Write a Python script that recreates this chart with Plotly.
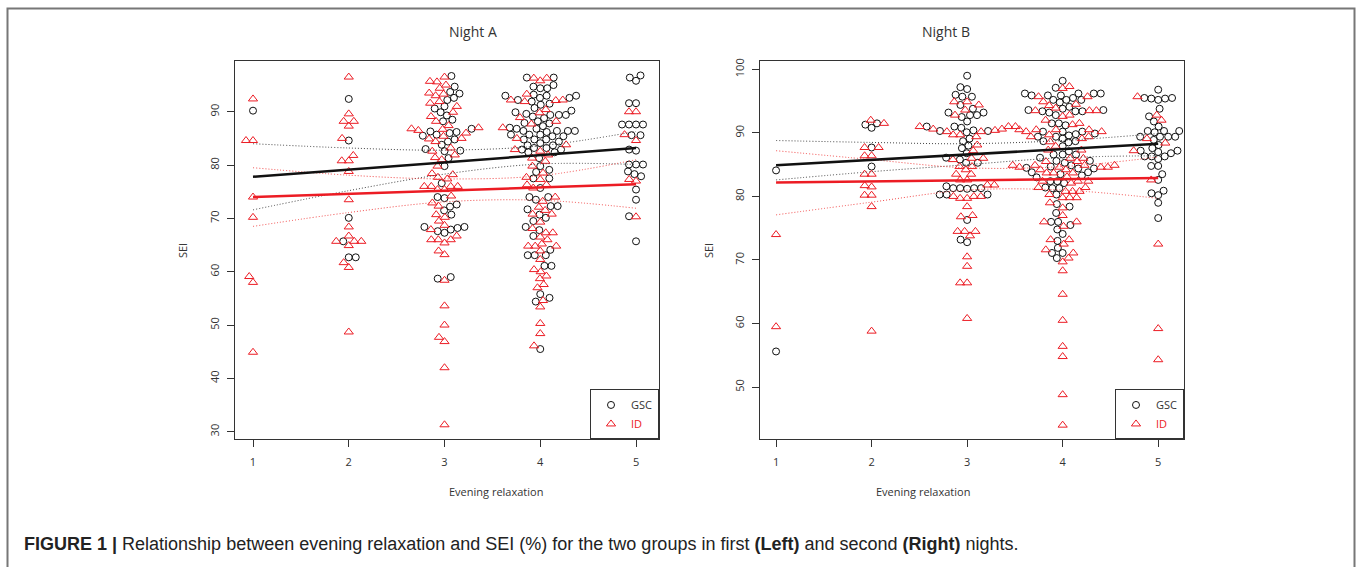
import math
import numpy as np
import plotly.graph_objects as go

# ---------------- data ----------------
categories = [1, 2, 3, 4, 5]

# Night A
a_gsc_1 = [90.2]
a_id_1 = [92.4, 84.6, 84.6, 74.0, 70.2, 59.1, 58.0, 44.9]
a_gsc_2 = [92.4, 84.6, 70.1, 65.7, 62.7, 62.7]
a_id_2 = [96.5, 89.6, 88.2, 88.2, 87.3, 85.0, 81.8, 80.8, 80.8, 78.8, 73.5, 68.4, 66.7,
          65.7, 65.7, 65.7, 64.9, 61.7, 60.8, 48.7]
a_gsc_3 = [96.7, 94.7, 93.7, 93.4, 92.6, 92.2, 91.0, 90.6, 89.9, 89.3, 88.5, 88.2, 86.8,
           86.3, 86.2, 86.0, 85.7, 85.5, 84.8, 84.4, 83.8, 83.0, 82.7, 82.6, 81.3, 79.8,
           76.6, 74.0, 73.8, 72.6, 72.2, 71.5, 70.7, 68.4, 68.4, 68.2, 67.9, 67.6, 67.3,
           59.0, 58.7]
a_id_3 = [96.5, 95.7, 95.6, 95.0, 94.4, 93.5, 93.3, 93.0, 91.9, 91.6, 91.0, 89.9, 89.1,
          88.2, 87.4, 87.0, 86.8, 86.7, 86.5, 86.0, 85.4, 85.0, 84.9, 84.4, 83.2, 82.6,
          81.9, 81.4, 81.0, 79.8, 78.4, 78.2, 77.7, 77.4, 76.0, 76.0, 76.0, 76.0, 75.4,
          75.4, 74.2, 72.9, 72.3, 70.7, 70.2, 69.5, 68.7, 67.9, 66.7, 66.0, 66.0, 66.0,
          65.4, 63.9, 63.2, 58.4, 53.6, 50.0, 47.7, 46.9, 42.0, 31.3]
a_gsc_4 = [96.4, 96.4, 95.0, 94.7, 94.4, 94.4, 93.2, 93.0, 93.0, 93.0, 92.6, 92.6, 92.2,
           91.9, 91.5, 91.3, 90.7, 90.2, 89.9, 89.6, 89.4, 89.4, 89.4, 89.1, 88.8, 88.2,
           87.9, 87.8, 87.3, 87.0, 86.8, 86.8, 86.4, 86.4, 86.4, 86.4, 86.2, 85.7, 85.7,
           85.7, 85.4, 85.4, 84.8, 84.8, 84.8, 84.4, 84.1, 83.7, 83.7, 83.2, 83.2, 82.9,
           82.9, 82.4, 82.4, 81.3, 79.8, 79.1, 78.7, 77.5, 77.5, 75.7, 74.0, 74.0, 73.5,
           72.3, 72.3, 71.7, 70.7, 70.1, 69.5, 68.4, 67.8, 66.7, 64.1, 63.1, 63.1, 63.1,
           61.1, 61.1, 55.8, 55.1, 54.4, 45.5]
a_id_4 = [96.3, 96.3, 95.8, 93.3, 92.2, 92.2, 92.1, 91.9, 90.4, 89.8, 88.9, 88.2, 87.7,
          87.0, 85.0, 83.8, 82.9, 82.6, 81.9, 81.3, 80.7, 79.8, 78.5, 77.7, 77.3, 76.3,
          76.3, 75.7, 74.0, 73.2, 72.1, 71.5, 70.8, 70.8, 69.3, 68.1, 67.3, 67.3, 66.5,
          66.0, 65.2, 64.8, 64.8, 64.8, 63.9, 62.3, 60.4, 60.0, 59.2, 58.7, 57.6, 57.0,
          54.6, 53.4, 50.3, 48.4, 46.1]
a_gsc_5 = [96.8, 96.4, 95.8, 91.6, 91.6, 87.6, 87.6, 87.6, 87.6, 85.6, 85.6, 82.9, 82.7,
           80.1, 80.1, 80.1, 78.8, 78.3, 77.9, 75.4, 73.5, 70.4, 65.7]
a_id_5 = [90.0, 90.0, 85.7, 84.6, 77.3, 77.0, 70.3]

# Night B
b_gsc_1 = [84.1, 55.6]
b_id_1 = [74.0, 59.5]
b_gsc_2 = [91.5, 91.3, 90.8, 87.7, 84.7]
b_id_2 = [92.0, 91.5, 87.7, 87.7, 86.4, 86.4, 83.5, 83.5, 81.7, 81.5, 80.2, 80.2, 78.4, 58.8]
b_gsc_3 = [99.0, 97.2, 96.9, 96.0, 95.7, 95.7, 94.4, 93.8, 93.2, 93.2, 92.8, 92.8, 92.5,
           91.8, 91.0, 91.0, 90.8, 90.4, 90.3, 90.3, 90.1, 89.1, 88.7, 88.0, 87.6, 86.8,
           86.1, 85.8, 85.3, 85.3, 81.6, 81.3, 81.3, 81.3, 81.3, 81.2, 80.3, 80.3, 80.3,
           76.3, 73.2, 72.8]
b_id_3 = [94.9, 94.9, 94.4, 93.6, 92.8, 91.0, 91.0, 91.0, 90.6, 90.6, 90.4, 90.2, 90.2,
          89.7, 89.7, 89.4, 88.1, 87.2, 86.0, 86.0, 85.8, 84.7, 84.7, 84.2, 83.5, 83.5,
          82.6, 82.6, 81.8, 81.8, 80.0, 80.0, 80.0, 79.7, 79.7, 78.4, 77.0, 76.8, 74.5,
          74.5, 74.5, 73.8, 70.5, 69.0, 66.4, 66.4, 60.8]
b_gsc_4 = [98.2, 97.1, 96.2, 96.2, 96.2, 96.2, 95.9, 95.9, 95.9, 95.5, 95.2, 95.2, 95.2,
           94.8, 94.1, 93.8, 93.6, 93.6, 93.4, 93.4, 93.4, 93.2, 92.8, 91.5, 91.5, 91.2,
           90.2, 90.2, 90.2, 89.9, 89.8, 89.6, 89.4, 89.4, 89.1, 88.7, 88.7, 88.5, 87.9,
           87.1, 86.6, 86.6, 86.6, 86.1, 85.6, 85.6, 85.3, 84.9, 84.7, 84.5, 84.4, 84.4,
           83.8, 83.8, 83.5, 83.3, 83.0, 82.4, 82.4, 82.1, 81.4, 81.3, 81.3, 80.3, 78.8,
           78.4, 77.4, 76.0, 76.0, 75.5, 74.8, 74.1, 73.0, 71.9, 71.1, 71.1, 70.3]
b_id_4 = [97.3, 97.0, 95.7, 95.7, 94.9, 94.5, 94.3, 93.9, 93.5, 93.5, 93.5, 92.8, 92.6,
          92.0, 91.5, 91.3, 90.5, 90.5, 90.5, 90.5, 90.2, 90.2, 89.7, 89.4, 89.4, 89.1,
          88.6, 87.9, 87.3, 87.3, 86.0, 86.0, 85.5, 85.5, 84.9, 84.9, 84.9, 84.9, 84.6,
          84.6, 84.6, 84.6, 84.2, 84.2, 83.7, 83.7, 83.7, 83.1, 82.4, 82.4, 82.4, 82.1,
          81.4, 81.4, 80.8, 80.8, 80.8, 80.3, 79.8, 79.8, 79.8, 79.0, 78.2, 77.0, 76.0,
          76.0, 75.3, 73.2, 73.2, 72.5, 71.6, 71.1, 70.3, 69.7, 68.3, 64.6, 60.5, 56.4,
          54.8, 48.8, 44.0]
b_gsc_5 = [96.8, 95.5, 95.5, 95.4, 95.4, 95.2, 93.8, 92.6, 91.8, 91.0, 90.3, 90.3, 90.3,
           90.1, 89.4, 89.4, 89.4, 89.4, 88.9, 88.1, 87.6, 87.2, 87.2, 87.0, 86.8, 86.3,
           86.3, 86.3, 85.9, 84.8, 84.8, 83.5, 82.6, 80.9, 80.5, 80.2, 79.0, 76.6]
b_id_5 = [95.7, 92.8, 92.0, 89.1, 88.4, 87.2, 82.6, 72.5, 59.2, 54.3]

# regression lines and confidence bands
fit_x = [1, 5]
a_gsc_fit = [77.8, 83.2]
a_id_fit = [74.0, 76.4]
b_gsc_fit = [84.9, 88.3]
b_id_fit = [82.2, 82.9]
band_x = [1, 2, 3, 4, 5]
a_gsc_upper = [84.0, 83.2, 82.8, 83.6, 86.3]
a_gsc_lower = [71.6, 75.2, 78.3, 80.2, 80.1]
a_id_upper = [79.5, 78.1, 77.4, 78.0, 81.0]
a_id_lower = [68.5, 71.1, 73.1, 73.4, 71.9]
b_gsc_upper = [88.8, 88.5, 88.3, 88.8, 89.9]
b_gsc_lower = [82.6, 83.9, 85.0, 86.1, 86.4]
b_id_upper = [87.2, 85.8, 84.5, 84.7, 86.2]
b_id_lower = [77.1, 79.1, 81.0, 81.0, 79.7]

# ---------------- layout constants ----------------
W, H = 1357, 567
PLOT_TOP, PLOT_BOT = 59, 439
A_LEFT, A_RIGHT = 235, 659
B_LEFT, B_RIGHT = 760, 1184
A_XR, A_YR = [0.812, 5.24], [28.55, 99.55]
B_XR, B_YR = [0.832, 5.27], [41.75, 101.35]
RED = "#ec1c24"
BLACK = "#111111"
SPACING = 7.0  # swarm spacing in px


def swarm(values, xscale, yscale, d=SPACING):
    """Beeswarm 'swarm' placement (ascending priority), in pixel space."""
    y = np.asarray(values, dtype=float) * yscale
    order = np.argsort(y, kind="stable")
    px, py = [], []
    out = np.zeros(len(y))
    for i in order:
        yi = y[i]
        cands = [0.0]
        for xj, yj in zip(px, py):
            dy = abs(yi - yj)
            if dy < d:
                dx = math.sqrt(d * d - dy * dy)
                cands += [xj - dx, xj + dx]
        cands.sort(key=lambda c: (abs(c), c))
        chosen = 0.0
        for c in cands:
            if all((c - xj) ** 2 + (yi - yj) ** 2 >= d * d - 1e-6 for xj, yj in zip(px, py)):
                chosen = c
                break
        px.append(chosen)
        py.append(yi)
        out[i] = chosen / xscale
    return out


fig = go.Figure()

panels = [
    dict(xa="x", ya="y", leg="legend",
         xr=A_XR, yr=A_YR, left=A_LEFT, right=A_RIGHT,
         gsc=[a_gsc_1, a_gsc_2, a_gsc_3, a_gsc_4, a_gsc_5],
         idg=[a_id_1, a_id_2, a_id_3, a_id_4, a_id_5],
         gfit=a_gsc_fit, ifit=a_id_fit,
         gu=a_gsc_upper, gl=a_gsc_lower, iu=a_id_upper, il=a_id_lower),
    dict(xa="x2", ya="y2", leg="legend2",
         xr=B_XR, yr=B_YR, left=B_LEFT, right=B_RIGHT,
         gsc=[b_gsc_1, b_gsc_2, b_gsc_3, b_gsc_4, b_gsc_5],
         idg=[b_id_1, b_id_2, b_id_3, b_id_4, b_id_5],
         gfit=b_gsc_fit, ifit=b_id_fit,
         gu=b_gsc_upper, gl=b_gsc_lower, iu=b_id_upper, il=b_id_lower),
]

for p in panels:
    xscale = (p["right"] - p["left"]) / (p["xr"][1] - p["xr"][0])
    yscale = (PLOT_BOT - PLOT_TOP) / (p["yr"][1] - p["yr"][0])
    gx, gy, ix, iy = [], [], [], []
    for cat, g, i in zip(categories, p["gsc"], p["idg"]):
        offs = swarm(list(g) + list(i), xscale, yscale)
        gx += list(cat + offs[:len(g)])
        gy += list(g)
        ix += list(cat + offs[len(g):])
        iy += list(i)
    fig.add_trace(go.Scatter(
        x=gx, y=gy, mode="markers", name="GSC", xaxis=p["xa"], yaxis=p["ya"],
        legend=p["leg"],
        marker=dict(symbol="circle-open", size=7, color=BLACK, line=dict(width=1, color=BLACK))))
    fig.add_trace(go.Scatter(
        x=ix, y=iy, mode="markers", name=f'<span style="color:{RED}">ID</span>',
        xaxis=p["xa"], yaxis=p["ya"], legend=p["leg"],
        marker=dict(symbol="triangle-up-open", size=8, color=RED, line=dict(width=1, color=RED))))
    for vals, col in [(p["gu"], "#444444"), (p["gl"], "#444444"),
                      (p["iu"], "#f04848"), (p["il"], "#f04848")]:
        fig.add_trace(go.Scatter(
            x=band_x, y=vals, mode="lines", showlegend=False, xaxis=p["xa"], yaxis=p["ya"],
            line=dict(color=col, width=1, dash="1px,2px", shape="spline"), hoverinfo="skip"))
    fig.add_trace(go.Scatter(
        x=fit_x, y=p["gfit"], mode="lines", showlegend=False, xaxis=p["xa"], yaxis=p["ya"],
        line=dict(color=BLACK, width=2.5)))
    fig.add_trace(go.Scatter(
        x=fit_x, y=p["ifit"], mode="lines", showlegend=False, xaxis=p["xa"], yaxis=p["ya"],
        line=dict(color=RED, width=2.5)))

FONT = "Open Sans"
TXT = "#333333"
axis_common = dict(showline=True, linecolor="#333333", linewidth=1, mirror=True,
                   ticks="outside", ticklen=7, tickcolor="#333333", tickwidth=1,
                   showgrid=False, zeroline=False,
                   tickfont=dict(family=FONT, size=11, color=TXT))

ydom = [1 - PLOT_BOT / H, 1 - PLOT_TOP / H]
leg_common = dict(y=1 - PLOT_BOT / H, xanchor="right", yanchor="bottom",
                  bordercolor="#333333", borderwidth=1, bgcolor="white",
                  font=dict(family=FONT, size=11, color=TXT), itemwidth=30,
                  tracegroupgap=0)
fig.update_layout(
    width=W, height=H, margin=dict(l=0, r=0, t=0, b=0),
    paper_bgcolor="white", plot_bgcolor="white",
    xaxis=dict(domain=[A_LEFT / W, A_RIGHT / W], range=A_XR, tickvals=categories,
               anchor="y", ticklabelstandoff=5, **axis_common),
    yaxis=dict(domain=ydom, range=A_YR, tickvals=[30, 40, 50, 60, 70, 80, 90],
               anchor="x", tickangle=-90, ticklabelstandoff=4, **axis_common),
    xaxis2=dict(domain=[B_LEFT / W, B_RIGHT / W], range=B_XR, tickvals=categories,
                anchor="y2", ticklabelstandoff=5, **axis_common),
    yaxis2=dict(domain=ydom, range=B_YR, tickvals=[50, 60, 70, 80, 90, 100],
                anchor="x2", tickangle=-90, ticklabelstandoff=4, **axis_common),
    legend=dict(x=A_RIGHT / W, **leg_common),
    legend2=dict(x=B_RIGHT / W, **leg_common),
    showlegend=True,
)

ann = []
for left, right, title in [(A_LEFT, A_RIGHT, "Night A"), (B_LEFT, B_RIGHT, "Night B")]:
    cx = (left + right) / 2 / W
    ann.append(dict(text=title, x=cx, y=1 - 30 / H, xref="paper", yref="paper",
                    yanchor="middle", showarrow=False,
                    font=dict(family=FONT, size=14, color=TXT)))
    ann.append(dict(text="Evening relaxation", x=cx, y=1 - 491 / H, xref="paper", yref="paper",
                    yanchor="middle", showarrow=False,
                    font=dict(family=FONT, size=11, color=TXT)))
for sx in (182, 708):
    ann.append(dict(text="SEI", x=sx / W, y=1 - 250 / H, xref="paper", yref="paper",
                    textangle=-90, showarrow=False, xanchor="center", yanchor="middle",
                    font=dict(family=FONT, size=11, color=TXT)))
ann.append(dict(
    text="<b>FIGURE 1 |</b> Relationship between evening relaxation and SEI (%) for the two groups "
         "in first <b>(Left)</b> and second <b>(Right)</b> nights.",
    x=22 / W, y=1 - 544 / H, xref="paper", yref="paper", xanchor="left", yanchor="middle",
    showarrow=False, font=dict(family="Liberation Sans", size=18, color="#222222")))
fig.update_layout(annotations=ann)

# outer frame of the figure panel
fig.add_shape(type="rect", xref="paper", yref="paper", x0=7.5 / W, x1=1354.5 / W,
              y0=-0.05, y1=1 - 6.5 / H, line=dict(color="#777777", width=2))

fig.write_html("out.html", config={"displayModeBar": False},
               post_script="document.body.style.margin='0px';")
